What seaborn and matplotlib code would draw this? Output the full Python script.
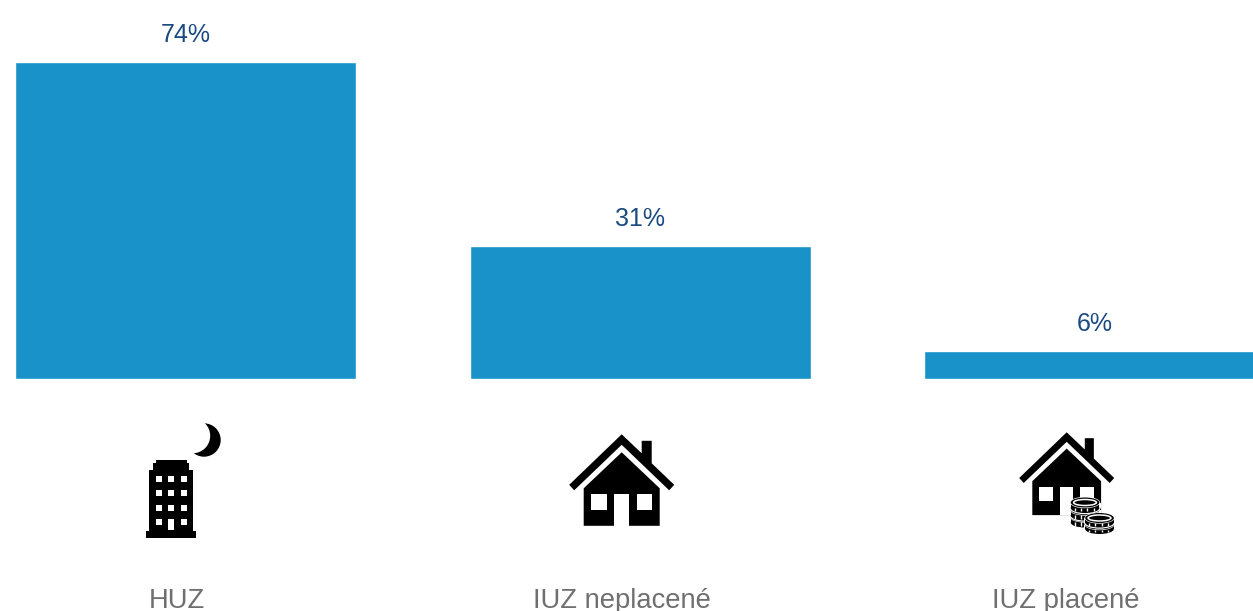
import numpy as np
import pandas as pd
import seaborn as sns
import matplotlib.pyplot as plt
from matplotlib.patches import Circle, Ellipse, Polygon, Rectangle

categories = ['HUZ', 'IUZ neplacené', 'IUZ placené']
values = [74, 31, 6.6]
value_labels = ['74%', '31%', '6%']

BAR_COLOR = '#1892c9'
VALUE_COLOR = '#1a4a80'
LABEL_COLOR = '#6f6f6f'
W, H = 1253, 611

sns.set_theme(style='white')
plt.rcParams['font.family'] = ['Liberation Sans', 'DejaVu Sans']

fig = plt.figure(figsize=(W / 100, H / 100), dpi=100)

# main axes stops at the bar baseline, the rest of the figure is icons and names
ax = fig.add_axes([0, (H - 379.3) / H, 1, 379.3 / H])
df = pd.DataFrame({'category': categories, 'value': values})
sns.barplot(data=df, x='category', y='value', color=BAR_COLOR, saturation=1,
            width=0.75, ax=ax)
ax.set_xlim(-185.8 / 454.5, (W - 185.8) / 454.5)
ax.set_ylim(0, 379.3 / 4.285)
ax.bar_label(ax.containers[0], labels=value_labels, padding=11, fontsize=18,
             color=VALUE_COLOR)
ax.set_axis_off()

# overlay in pixel coordinates for the pictograms
ov = fig.add_axes([0, 0, 1, 1])
ov.set_xlim(0, W)
ov.set_ylim(H, 0)
ov.set_axis_off()
ov.patch.set_alpha(0)


def rect(x0, y0, x1, y1, color='black', z=2):
    ov.add_patch(Rectangle((x0, y0), x1 - x0, y1 - y0, fc=color, ec='none', zorder=z))


def building():
    rect(146, 531, 196, 537.5)
    rect(149, 470, 193, 531)
    rect(153, 463, 189, 470)
    rect(156, 460, 187, 463)
    for wx in [156, 168, 181]:
        for wy in [476, 490, 505, 519]:
            bottom = 530 if (wx == 168 and wy == 519) else wy + 5.5
            rect(wx, wy, wx + 5.5, bottom, 'white', 3)
    # moon is a black disc with a white disc biting into it
    ov.add_patch(Circle((204, 440), 16.7, fc='black', ec='none', zorder=2))
    ov.add_patch(Circle((192.7, 435.8), 17.5, fc='white', ec='none', zorder=3))


def house(apex_x, apex_y, s):
    # shape measured on the middle house, relative to the roof apex
    def pts(p):
        return [(apex_x + x * s, apex_y + y * s) for x, y in p]
    roof = [(0, 0), (20, 19), (20, 6.5), (30, 6.5), (30, 29), (52.5, 50.5),
            (47.5, 56), (0, 10.5), (-47.5, 56), (-52.5, 50.5)]
    body = [(0, 18), (38, 54), (38, 91.5), (-38, 91.5), (-38, 54)]
    ov.add_patch(Polygon(pts(roof), fc='black', ec='none', zorder=2))
    ov.add_patch(Polygon(pts(body), fc='black', ec='none', zorder=2))
    for x0, x1, y1 in [(-30.5, -15, 76), (15, 30.5, 76), (-7.5, 7.5, 91.5)]:
        rect(apex_x + x0 * s, apex_y + 60 * s, apex_x + x1 * s, apex_y + y1 * s, 'white', 3)


def coin_stack(cx, ys, rx=14.3, ry=5.2, h=6.5, z=4):
    # ys from bottom coin to top coin
    for i, y in enumerate(ys):
        zz = z + i * 0.1
        ov.add_patch(Ellipse((cx, y + h), 2 * rx + 2.5, 2 * ry + 2.5, fc='white', ec='none', zorder=zz))
        ov.add_patch(Rectangle((cx - rx - 1.2, y), 2 * rx + 2.4, h, fc='white', ec='none', zorder=zz))
        ov.add_patch(Ellipse((cx, y + h), 2 * rx, 2 * ry, fc='black', ec='none', zorder=zz))
        ov.add_patch(Rectangle((cx - rx, y), 2 * rx, h, fc='black', ec='none', zorder=zz))
        ov.add_patch(Ellipse((cx, y), 2 * rx + 1.4, 2 * ry + 1.4, fc='white', ec='none', zorder=zz))
        ov.add_patch(Ellipse((cx, y), 2 * rx, 2 * ry, fc='black', ec='none', zorder=zz))
        for dx in np.array([-0.7, -0.3, 0.15, 0.6]) * rx:
            ov.plot([cx + dx, cx + dx], [y + ry * 0.95 + 0.5, y + h + ry * 0.6],
                    color='white', lw=1.0, zorder=zz, solid_capstyle='butt')
    top = ys[-1]
    ov.add_patch(Ellipse((cx, top), 2 * rx * 0.8, 2 * ry * 0.6, fc='none', ec='white', lw=1.1, zorder=z + 1))


building()
house(621.7, 434.3, 1.0)
house(1066.7, 432.3, 0.905)
coin_stack(1085, [517, 510, 502.5], ry=5, h=5.5)
coin_stack(1099.5, [524.5, 518], ry=5, h=4.5, z=5)

# names are not centred under the bars in the source, and the source crops them at the bottom
for name, cx in zip(categories, [177, 622, 1066]):
    ov.text(cx, 608.5, name, ha='center', va='baseline', fontsize=19.7,
            color=LABEL_COLOR)

fig.savefig('out.png', dpi=100)
